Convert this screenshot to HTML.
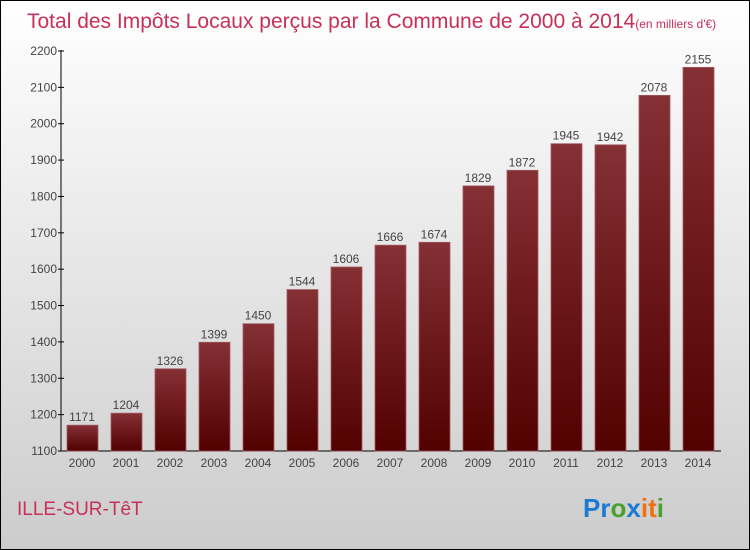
<!DOCTYPE html>
<html><head><meta charset="utf-8"><style>
body{margin:0;}
#wrap{width:748px;height:548px;border:1px solid #000;background:linear-gradient(#fff,#ccc);position:relative;font-family:"Liberation Sans",sans-serif;overflow:hidden}
</style></head><body>
<div id="wrap">
<svg width="748" height="548" id="svg">
<defs><linearGradient id="bg" x1="0" y1="0" x2="0" y2="1"><stop offset="0" stop-color="#853035"/><stop offset="1" stop-color="#520000"/></linearGradient></defs>
<text x="26" y="27" font-size="21" fill="#c8305a">Total des Impôts Locaux perçus par la Commune de 2000 à 2014<tspan font-size="12">(en milliers d'€)</tspan></text>
<text x="16" y="514" font-size="19" fill="#c8305a">ILLE-SUR-TêT</text>
<text x="582" y="516" font-size="26" font-weight="bold"><tspan fill="#1a7ad4">Pr</tspan><tspan fill="#4aa02c">o</tspan><tspan fill="#1a7ad4">x</tspan><tspan fill="#f07010">i</tspan><tspan fill="#f07010">t</tspan><tspan fill="#4aa02c">i</tspan></text>
<g id="g"></g>
</svg></div>
<script>
const years=["2000","2001","2002","2003","2004","2005","2006","2007","2008","2009","2010","2011","2012","2013","2014"];
const values=[1171,1204,1326,1399,1450,1544,1606,1666,1674,1829,1872,1945,1942,2078,2155];
const ticks=[1100,1200,1300,1400,1500,1600,1700,1800,1900,2000,2100,2200];
const NS="http://www.w3.org/2000/svg",g=document.getElementById('g');
const y=v=>450-(v-1100)*400/1100;
const x=i=>81+i*44;
function mk(t,a){const e=document.createElementNS(NS,t);for(const k in a)e.setAttribute(k,a[k]);g.appendChild(e);return e;}
const ax=mk('line',{x1:60,y1:49,x2:60,y2:450,stroke:'#000'});


const bx=mk('line',{x1:60,y1:450,x2:720,y2:450,stroke:'#000'});


ticks.forEach(t=>{
 const l=mk('line',{x1:57,x2:63,y1:y(t),y2:y(t),stroke:'#000'});
 
 
 const tx=mk('text',{x:56,y:y(t)+4,'text-anchor':'end','font-size':12,fill:'#444'});
 tx.textContent=t;
 
 
});
years.forEach((yr,i)=>{
 const v=values[i];
 const r=mk('rect',{x:x(i)-15,y:y(v),width:31,height:450-y(v),fill:'url(#bg)',stroke:'#a05a60','stroke-width':0.8});
 
 
 const vl=mk('text',{x:x(i),y:y(v)-4,'text-anchor':'middle','font-size':12,fill:'#444'});
 vl.textContent=v;
 
 
 const xl=mk('text',{x:x(i),y:466,'text-anchor':'middle','font-size':12,fill:'#444'});
 xl.textContent=yr;
 
 
});
</script>
</body></html>
